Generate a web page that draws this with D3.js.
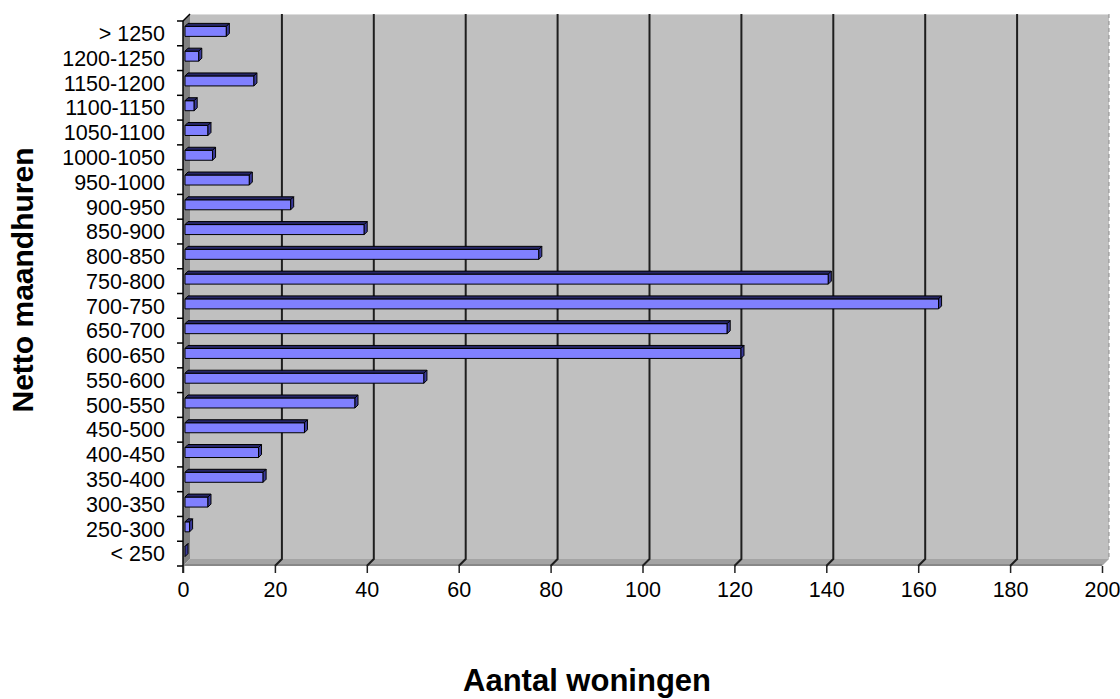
<!DOCTYPE html>
<html>
<head>
<meta charset="utf-8">
<script src="https://cdn.jsdelivr.net/npm/d3@7"></script>
<style>
  html, body { margin: 0; padding: 0; background: #ffffff; }
  svg { display: block; }
  text { font-family: "Liberation Sans", Arial, sans-serif; fill: #000; }
</style>
</head>
<body>
<svg id="chart" width="1120" height="699"></svg>
<script>
// Rent classes (bottom to top) and number of dwellings per class
const categories = ["< 250", "250-300", "300-350", "350-400", "400-450", "450-500",
  "500-550", "550-600", "600-650", "650-700", "700-750", "750-800", "800-850",
  "850-900", "900-950", "950-1000", "1000-1050", "1050-1100", "1100-1150",
  "1150-1200", "1200-1250", "> 1250"];
const counts = [0, 1, 5, 17, 16, 26, 37, 52, 121, 118, 164, 140, 77, 39, 23, 14, 6, 5, 2, 15, 3, 9];
const xTicks = [0, 20, 40, 60, 80, 100, 120, 140, 160, 180, 200];
const xTitle = "Aantal woningen";
const yTitle = "Netto maandhuren";

const svg = d3.select("#chart");

// front plane of the plot and 3-D depth offset of the walls
const plotLeft = 183, plotRight = 1102, plotTop = 21, plotBottom = 566;
const depth = 7;

const x = d3.scaleLinear().domain([0, 200]).range([plotLeft, plotRight]);
const y = d3.scaleBand().domain(categories.slice().reverse()).range([plotTop, plotBottom]);

// back wall
svg.append("rect")
  .attr("x", plotLeft + depth).attr("y", plotTop - depth)
  .attr("width", plotRight - plotLeft).attr("height", plotBottom - plotTop)
  .attr("fill", "#c0c0c0");
svg.append("line")
  .attr("x1", plotLeft + depth).attr("x2", plotRight + depth)
  .attr("y1", plotTop - depth + 0.5).attr("y2", plotTop - depth + 0.5)
  .attr("stroke", "#dcdcdc").attr("stroke-width", 1);
svg.append("line")
  .attr("x1", plotRight + depth).attr("x2", plotRight + depth)
  .attr("y1", plotTop - depth).attr("y2", plotBottom - depth)
  .attr("stroke", "#8c8c8c").attr("stroke-width", 1)
  .attr("stroke-dasharray", "4,3");

// side wall
svg.append("polygon")
  .attr("points", [[plotLeft, plotTop], [plotLeft + depth, plotTop - depth],
    [plotLeft + depth, plotBottom - depth], [plotLeft, plotBottom]].join(" "))
  .attr("fill", "#808080");

// floor
svg.append("polygon")
  .attr("points", [[plotLeft, plotBottom], [plotLeft + depth, plotBottom - depth],
    [plotRight + depth, plotBottom - depth], [plotRight, plotBottom]].join(" "))
  .attr("fill", "#a4a4a4");
svg.append("line")
  .attr("x1", plotLeft).attr("x2", plotRight)
  .attr("y1", plotBottom - 1).attr("y2", plotBottom - 1)
  .attr("stroke", "#888").attr("stroke-width", 2);

// gridlines on wall and floor
const grid = svg.append("g").attr("fill", "none").attr("stroke", "#1e1e1e").attr("stroke-width", 2);
xTicks.filter(d => d > 0 && d < 200).forEach(d => {
  const gx = x(d);
  grid.append("path")
    .attr("d", `M${gx + depth},${plotTop - depth} L${gx + depth},${plotBottom - depth} L${gx},${plotBottom}`);
});

// bars (front, top and end faces)
const barH = 10, bd = 3, inset = 2;
const bars = svg.append("g");
categories.forEach((c, i) => {
  const v = counts[i];
  const cy = y(c) + y.bandwidth() / 2 - inset;
  const x0 = x(0) + inset, x1 = x(v) + inset;
  const yt = cy - barH / 2, yb = cy + barH / 2;
  const g = bars.append("g").attr("stroke", "#000").attr("stroke-width", 1).attr("stroke-linejoin", "round");
  g.append("rect")
    .attr("x", x0).attr("y", yt).attr("width", x1 - x0).attr("height", barH)
    .attr("fill", "#8080ff");
  g.append("polygon")
    .attr("points", [[x0, yt], [x0 + bd, yt - bd], [x1 + bd, yt - bd], [x1, yt]].join(" "))
    .attr("fill", "#262666");
  g.append("polygon")
    .attr("points", [[x1, yt], [x1 + bd, yt - bd], [x1 + bd, yb - bd], [x1, yb]].join(" "))
    .attr("fill", "#3a3a9a");
});

// category axis
const yAxis = svg.append("g");
yAxis.append("line")
  .attr("x1", plotLeft).attr("x2", plotLeft).attr("y1", plotTop).attr("y2", plotBottom + 7)
  .attr("stroke", "#000").attr("stroke-width", 1.5);
yAxis.append("line")
  .attr("x1", plotLeft).attr("x2", plotLeft + depth).attr("y1", plotTop).attr("y2", plotTop - depth)
  .attr("stroke", "#000").attr("stroke-width", 1.5);
const edges = categories.map(c => y(c)).concat([plotBottom]);
yAxis.selectAll("line.tick").data(edges).join("line")
  .attr("class", "tick")
  .attr("x1", plotLeft - 6).attr("x2", plotLeft)
  .attr("y1", d => d).attr("y2", d => d)
  .attr("stroke", "#000").attr("stroke-width", 1.5);
yAxis.selectAll("text").data(categories).join("text")
  .attr("x", 165)
  .attr("y", d => y(d) + y.bandwidth() / 2)
  .attr("dy", "0.36em")
  .attr("text-anchor", "end")
  .attr("font-size", 21.5)
  .text(d => d);

// value axis
const xAxis = svg.append("g")
  .attr("transform", `translate(0,${plotBottom})`)
  .call(d3.axisBottom(x).tickValues(xTicks).tickSize(7).tickPadding(9).tickFormat(d3.format("d")));
xAxis.select(".domain").remove();
xAxis.selectAll(".tick line").attr("stroke", "#222").attr("stroke-width", 1.5);
xAxis.selectAll(".tick text")
  .attr("font-size", 21.5)
  .attr("font-family", "Liberation Sans, Arial, sans-serif")
  .attr("fill", "#000");

// axis titles
svg.append("text")
  .attr("x", 587).attr("y", 691)
  .attr("text-anchor", "middle")
  .attr("font-size", 31).attr("font-weight", "bold")
  .text(xTitle);
svg.append("text")
  .attr("transform", "translate(33,280) rotate(-90)")
  .attr("text-anchor", "middle")
  .attr("font-size", 30).attr("font-weight", "bold")
  .text(yTitle);
</script>
</body>
</html>
